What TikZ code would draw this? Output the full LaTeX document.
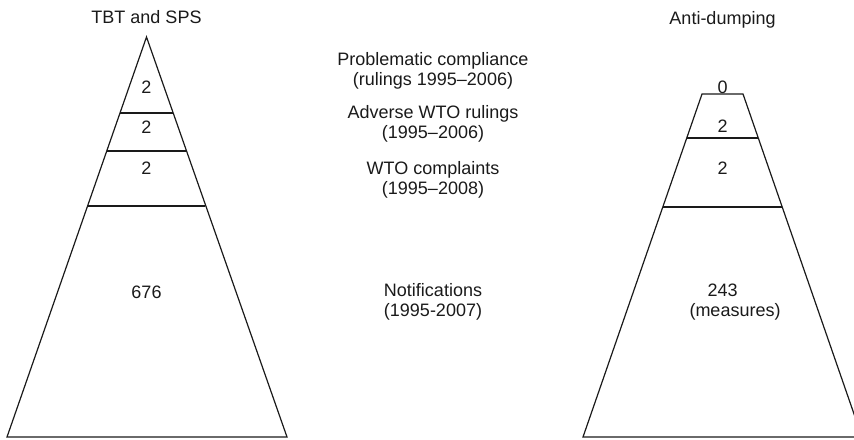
\documentclass[tikz,border=0pt]{standalone}
\usepackage{fontspec}
\setmainfont{Liberation Sans}
\definecolor{Ink}{HTML}{1A1A1A}
\tikzset{
  outline/.style={draw=Ink,line width=0.6pt,line join=miter},
  tier/.style={draw=Ink,line width=0.6pt},
  lbl/.style={font=\fontsize{9}{10}\selectfont,text=Ink,inner sep=0pt,align=center},
  num/.style={lbl,anchor=base}
}
\begin{document}
\begin{tikzpicture}[x=0.5pt,y=-0.5pt]
\useasboundingbox (0,0) rectangle (854,439);
\begin{scope}
\clip (0,0) rectangle (854,439);
% TBT and SPS pyramid
\draw[outline] (7,437) -- (146.5,37) -- (287,437) -- cycle;
\foreach \y/\l/\r in {113/120.0/173.0,151/106.7/186.3,206/87.6/205.4}{
  \draw[tier] (\l,\y) -- (\r,\y);
}
% Anti-dumping pyramid (cut at the top)
\draw[outline] (583,437) -- (702,94) -- (743,94) -- (862,437) -- cycle;
\foreach \y/\l/\r in {138/686.7/758.3,207/662.8/782.2}{
  \draw[tier] (\l,\y) -- (\r,\y);
}
\end{scope}
% titles
\node[num] (tbtTitle) at (146.5,24) {TBT and SPS};
\node[num] (adTitle) at (722.5,24.3) {Anti-dumping};
% counts, left
\node[num] (tbtComply) at (146.5,93.3) {2};
\node[num] (tbtRuling) at (146.5,133.3) {2};
\node[num] (tbtComplaint) at (146.5,174) {2};
\node[num] (tbtNotif) at (146.5,298.3) {676};
% counts, right
\node[num] (adComply) at (722.5,93.3) {0};
\node[num] (adRuling) at (722.5,132.7) {2};
\node[num] (adComplaint) at (722.5,174.3) {2};
\node[num] (adMeasures) at (722.5,296.7) {243};
\node[num] (adMeasuresNote) at (735,316.8) {(measures)};
% tier names
\node[lbl] (complyName) at (433,70.4) {Problematic compliance\\(rulings 1995–2006)};
\node[lbl] (rulingName) at (433,123.4) {Adverse WTO rulings\\(1995–2006)};
\node[lbl] (complaintName) at (433,179.9) {WTO complaints\\(1995–2008)};
\node[lbl] (notifName) at (433,302.3) {Notifications\\(1995-2007)};
\end{tikzpicture}
\end{document}
